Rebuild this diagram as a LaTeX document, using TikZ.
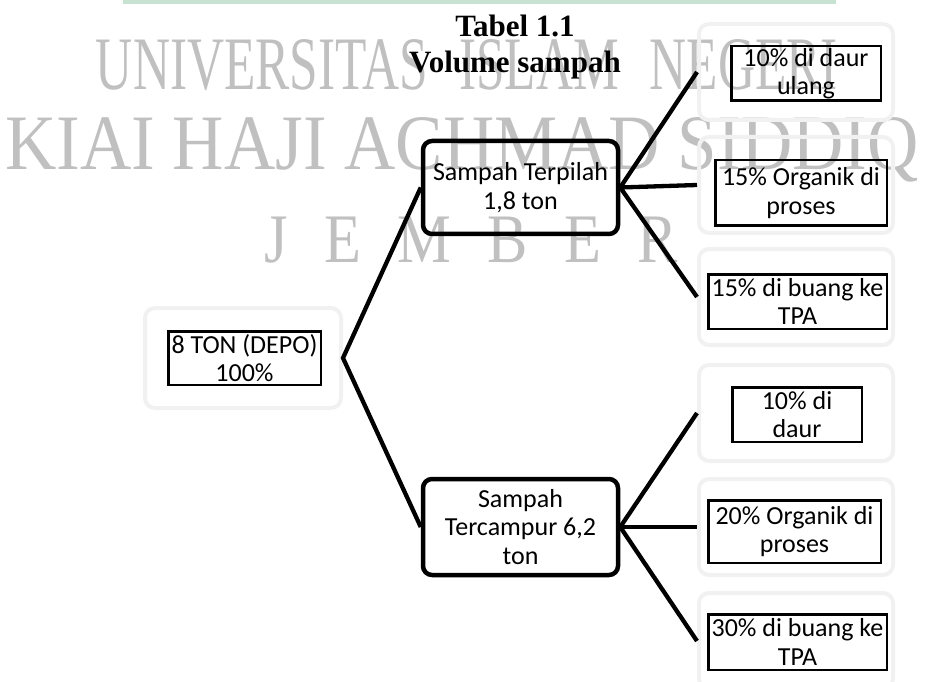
\documentclass[tikz,border=0pt]{standalone}
\usepackage{fontspec}
\usepackage{graphicx}
\setmainfont{Liberation Serif}
\newfontfamily\boxfont{Carlito}
\newfontfamily\wmwide[WordSpace=2.8]{Liberation Serif}
\newfontfamily\wmspaced[WordSpace=2.4]{Liberation Serif}

\definecolor{wmgray}{RGB}{192,192,192}
\definecolor{bargreen}{RGB}{200,226,210}
\definecolor{ghostgray}{RGB}{241,241,241}

\tikzset{
  leafbox/.style={draw,line width=2.5pt,inner sep=0pt,align=center,
    font=\boxfont\fontsize{26}{28.5}\selectfont},
  grpbox/.style={draw,line width=4.5pt,rounded corners=9pt,inner sep=0pt,align=center,
    font=\boxfont\fontsize{26}{28.5}\selectfont},
  ghostbox/.style={draw=ghostgray,line width=4pt,rounded corners=10pt,
    minimum width=194pt,minimum height=96pt},
  linkline/.style={line width=4.3pt},
  wmark/.style={text=wmgray,inner sep=0pt,anchor=base},
  headtext/.style={inner sep=0pt,anchor=base,font=\bfseries\fontsize{31}{31}\selectfont},
}

\begin{document}
\begin{tikzpicture}[x=1pt,y=-1pt]
\useasboundingbox (0,0) rectangle (938,682);

%Green rule
\fill[bargreen] (123,0) rectangle (836,4);

%Watermark
\node[wmark,font=\wmwide\fontsize{75.5}{75.5}\selectfont,
] (wmuni) at (467,90){\scalebox{0.68}[1]{UNIVERSITAS ISLAM NEGERI}};
\node[wmark,font=\fontsize{78.5}{78.5}\selectfont,
] (wmkhas) at (462,170){\scalebox{0.905}[1]{KIAI HAJI ACHMAD SIDDIQ}};
\node[wmark,font=\wmspaced\fontsize{69.5}{69.5}\selectfont,
] (wmcity) at (471.5,262){\scalebox{0.87}[1]{J E M B E R}};

%Title
\node[headtext] (tab) at (515,37){Tabel 1.1};
\node[headtext] (vol) at (515,73){Volume sampah};

%Shadows
\node[ghostbox,minimum width=196pt,minimum height=100pt,
] (gdepo) at (243,358){};
\node[ghostbox] (gsort1) at (796,72){};
\node[ghostbox] (gsort2) at (796,185){};
\node[ghostbox] (gsort3) at (796,297){};
\node[ghostbox] (gmix1) at (796,413){};
\node[ghostbox] (gmix2) at (796,527){};
\node[ghostbox] (gmix3) at (796,641){};

%Depo
\node[leafbox,minimum width=152.5pt,minimum height=53.5pt,
] (depo) at (244.5,358){8 TON (DEPO)\\100\%};

%Sorted
\node[grpbox,minimum width=195pt,minimum height=93pt,
] (sorted) at (520.5,187.5){Sampah Terpilah\\1,8 ton};

%Mixed
\node[grpbox,minimum width=195pt,minimum height=96pt,
] (mixed) at (520.5,527){Sampah\\Tercampur 6,2\\ton};

%Sorted shares
\node[leafbox,minimum width=149.5pt,minimum height=54.5pt,
] (sort1) at (806,73.5){10\% di daur\\ulang};
\node[leafbox,minimum width=171.5pt,minimum height=65.5pt,
] (sort2) at (801,193){15\% Organik di\\proses};
\node[leafbox,minimum width=178.5pt,minimum height=54.5pt,
] (sort3) at (797.5,301.5){15\% di buang ke\\TPA};

%Mixed shares
\node[leafbox,minimum width=129.5pt,minimum height=54.5pt,
] (mix1) at (797,414.5){10\% di\\daur};
\node[leafbox,minimum width=172.5pt,minimum height=62.5pt,
] (mix2) at (794.5,531.5){20\% Organik di\\proses};
\node[leafbox,minimum width=178.5pt,minimum height=55.5pt,
] (mix3) at (797.5,642){30\% di buang ke\\TPA};

%Links
\draw[linkline] (sorted.west) -- (gdepo.east) -- (mixed.west);
\draw[linkline] (gsort1.west) -- (sorted.east) -- (gsort3.west);
\draw[linkline] (sorted.east) -- (gsort2.west);
\draw[linkline] (gmix1.west) -- (mixed.east) -- (gmix3.west);
\draw[linkline] (mixed.east) -- (gmix2.west);

\end{tikzpicture}
\end{document}
